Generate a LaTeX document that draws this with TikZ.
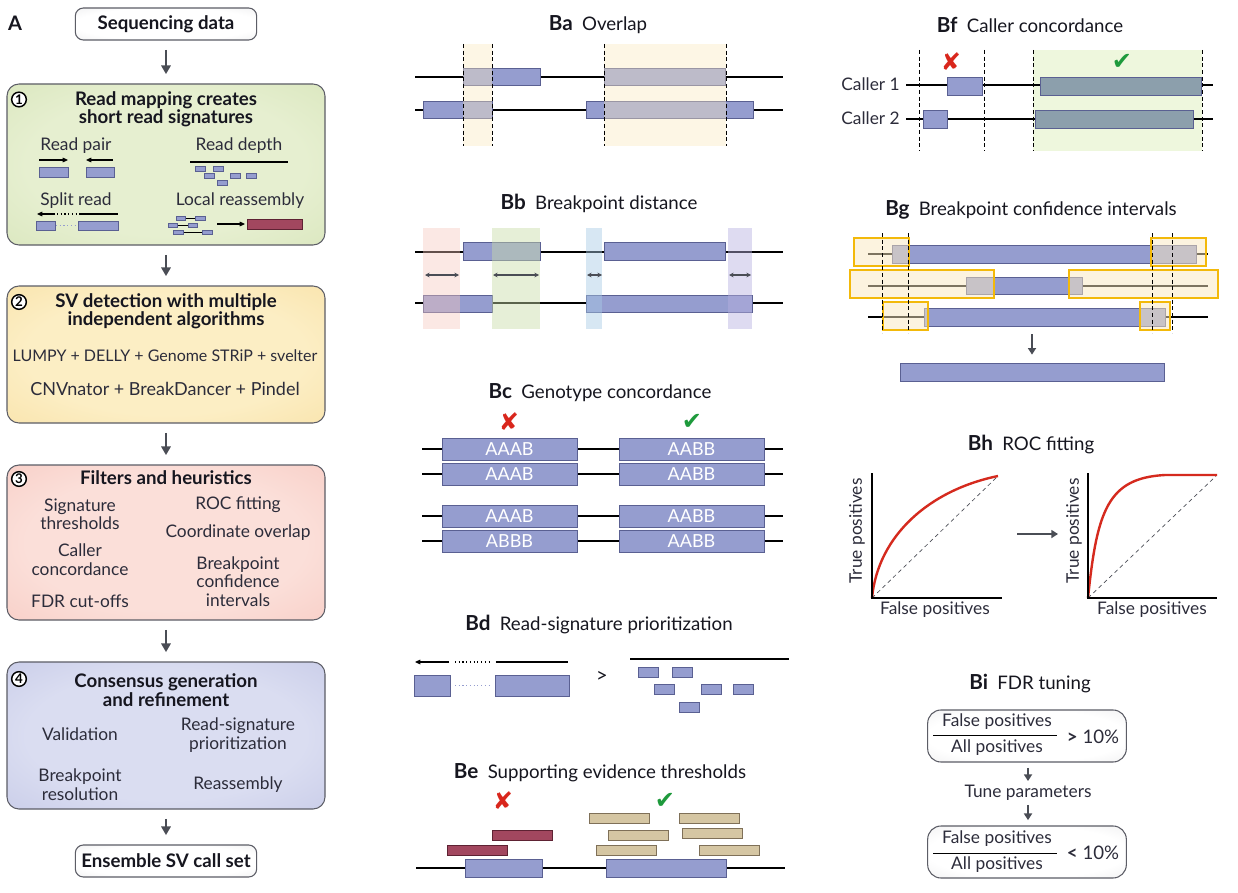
\documentclass[tikz,border=0pt]{standalone}
\usepackage{fontspec}
\setmainfont{Lato}
\newfontfamily\symfont{DejaVu Sans}
\usepackage{xcolor}
\usetikzlibrary{arrows.meta,positioning}

\definecolor{inkdark}{HTML}{16161F}
\definecolor{inkbody}{HTML}{2C2C3A}
\definecolor{arrowgray}{HTML}{4A4D55}
\definecolor{boxedge}{HTML}{5C5D66}
\definecolor{readblue}{HTML}{959DCF}
\definecolor{readedge}{HTML}{5A6092}
\definecolor{readteal}{HTML}{8C9FAC}
\definecolor{readred}{HTML}{A2475F}
\definecolor{readrededge}{HTML}{5E2233}
\definecolor{readtan}{HTML}{D5C6A3}
\definecolor{readtanedge}{HTML}{7F7058}
\definecolor{ciyellow}{HTML}{F3B90A}
\definecolor{ovyellow}{HTML}{FBE9C0}
\definecolor{ovpink}{HTML}{F7C6BD}
\definecolor{ovgreen}{HTML}{C9DCA8}
\definecolor{ovblue}{HTML}{A8CBE6}
\definecolor{ovpurple}{HTML}{B8B0E0}
\definecolor{ovlime}{HTML}{EEF7DD}
\definecolor{rocred}{HTML}{D52A1E}
\definecolor{crossred}{HTML}{D9261C}
\definecolor{checkgreen}{HTML}{1E9A3C}
\definecolor{greenin}{HTML}{E6EFD0}
\definecolor{greenout}{HTML}{C0D597}
\definecolor{yellowin}{HTML}{FCEEC4}
\definecolor{yellowout}{HTML}{F2CD78}
\definecolor{pinkin}{HTML}{FBDFD9}
\definecolor{pinkout}{HTML}{F1AA9F}
\definecolor{bluein}{HTML}{DADDF1}
\definecolor{blueout}{HTML}{A3A8D5}
\definecolor{grayin}{HTML}{FFFFFF}
\definecolor{grayout}{HTML}{C8C8CB}

\pgfdeclareradialshading{greenvig}{\pgfpoint{0bp}{0bp}}{color(0bp)=(greenin); color(22bp)=(greenin); color(72bp)=(greenout)}
\pgfdeclareradialshading{yellowvig}{\pgfpoint{0bp}{0bp}}{color(0bp)=(yellowin); color(22bp)=(yellowin); color(72bp)=(yellowout)}
\pgfdeclareradialshading{pinkvig}{\pgfpoint{0bp}{0bp}}{color(0bp)=(pinkin); color(22bp)=(pinkin); color(72bp)=(pinkout)}
\pgfdeclareradialshading{bluevig}{\pgfpoint{0bp}{0bp}}{color(0bp)=(bluein); color(22bp)=(bluein); color(72bp)=(blueout)}
\pgfdeclareradialshading{grayvig}{\pgfpoint{0bp}{0bp}}{color(0bp)=(grayin); color(25bp)=(grayin); color(72bp)=(grayout)}

\begin{document}
\begin{tikzpicture}[
  x=0.75pt, y=-0.75pt,
  >=Stealth,
  txtbody/.style={font=\fontsize{13}{13.8}\selectfont, text=inkbody, align=center, inner sep=0pt},
  txthead/.style={font=\bfseries\fontsize{14}{13.8}\selectfont, text=inkdark, align=center, inner sep=0pt},
  paneltitle/.style={font=\fontsize{14}{15}\selectfont, text=inkdark, inner sep=0pt},
  boxlabel/.style={font=\fontsize{13.5}{14}\selectfont, text=white, inner sep=0pt},
  stagebox/.style={draw=boxedge, line width=0.8pt, rounded corners=9pt, minimum width=238.5pt, shade},
  endbox/.style={draw=boxedge, line width=0.8pt, rounded corners=6pt, minimum width=136pt, minimum height=24pt,
    shade, shading=grayvig, font=\bfseries\fontsize{14}{15}\selectfont, text=inkdark},
  fdrbox/.style={draw=boxedge, line width=0.8pt, rounded corners=10pt, minimum width=149pt, minimum height=39pt,
    shade, shading=grayvig},
  stepnum/.style={circle, draw=black, line width=1.1pt, fill=white, inner sep=0pt, minimum size=11pt,
    font=\bfseries\fontsize{10}{10}\selectfont},
  flow/.style={draw=arrowgray, line width=1.6pt, -{Triangle[length=6.5pt,width=7pt]}, shorten <=7pt, shorten >=7pt},
  smallflow/.style={draw=arrowgray, line width=1.6pt, -{Triangle[length=5pt,width=6pt]}},
  sig/.style={draw=black, line width=0.8pt, -{Triangle[length=4pt,width=3.5pt]}},
  thinline/.style={draw=black, line width=0.8pt},
  chrom/.style={draw=black, line width=1.4pt},
  bpline/.style={draw=black, line width=0.6pt, dash pattern=on 3pt off 2pt},
  readbox/.style={draw=readedge, fill=readblue, line width=0.5pt},
  ovlfill/.style={fill=ovyellow, fill opacity=0.4},
  span/.style={draw=arrowgray, line width=0.8pt, {Stealth[length=3.5pt,width=3.5pt]}-{Stealth[length=3.5pt,width=3.5pt]}},
  verdict/.style={font=\symfont\fontsize{18}{18}\selectfont, inner sep=0pt},
]
  \useasboundingbox (0,0) rectangle (1238,892);
  \fill[white] (0,0) rectangle (1238,892);

  % ---------------- Panel A: pipeline ----------------
  \node[font=\bfseries\fontsize{15}{15}\selectfont, text=inkdark] (labA) at (15,23) {A};
  \node[endbox] (seq) at (166,24) {Sequencing data};

  % Stage 1
  \node[stagebox, shading=greenvig, minimum height=120.75pt] (s1) at (166,164.5) {};
  \node[stepnum] (n1) at (19,99.5) {1};
  \node[txthead] (h1) at (166,109) {Read mapping creates\\short read signatures};
  \node[txtbody] (rpair) at (76,146) {Read pair};
  \draw[sig] (39,160) -- (68,160);
  \draw[sig] (113,160) -- (86,160);
  \draw[readbox] (39,167) rectangle (68,177);
  \draw[readbox] (86,167) rectangle (114,177);
  \node[txtbody] (rdepth) at (239,146) {Read depth};
  \draw[thinline] (190,162) -- (288,162);
  \foreach \x/\y in {195/166,213/166,204/173,230/173,246/173,217/180}
    \draw[readbox] (\x,\y) rectangle ++(10,5);
  \node[txtbody] (rsplit) at (76,201) {Split read};
  \draw[sig] (55,214) -- (37,214);
  \draw[thinline, dotted] (57,214) -- (77,214);
  \draw[thinline] (79,214) -- (118,214);
  \draw[readbox] (36,221) rectangle (55,230);
  \draw[readblue, line width=0.8pt, dotted] (56,225.5) -- (77,225.5);
  \draw[readbox] (78,221) rectangle (118,230);
  \node[txtbody] (rlocal) at (240,201) {Local reassembly};
  \foreach \a/\b/\c/\d/\y in {176/185/195/205/216,168/177/188/197/223,173/183/202/212/230} {
    \draw[thinline, line width=0.6pt] (\b,\y+2) -- (\c,\y+2);
    \draw[readbox] (\a,\y) rectangle (\b,\y+4);
    \draw[readbox] (\c,\y) rectangle (\d,\y+4);
  }
  \draw[sig] (217,224) -- (245,224);
  \draw[draw=readrededge, fill=readred, line width=0.5pt] (247,219) rectangle (302,229);

  % Stage 2
  \node[stagebox, shading=yellowvig, minimum height=102.75pt] (s2) at (166,354.5) {};
  \node[stepnum] (n2) at (19,302) {2};
  \node[txthead] (h2) at (166,311) {SV detection with multiple\\independent algorithms};
  \node[txtbody, font=\fontsize{12}{13}\selectfont] (tools1) at (165,356) {LUMPY + DELLY + Genome STRiP + svelter};
  \node[txtbody, font=\fontsize{13.5}{14}\selectfont] (tools2) at (165,389) {CNVnator + BreakDancer + Pindel};

  % Stage 3
  \node[stagebox, shading=pinkvig, minimum height=116.25pt] (s3) at (166,542.5) {};
  \node[stepnum] (n3) at (19,479) {3};
  \node[txthead] (h3) at (166,478) {Filters and heuristics};
  \node[txtbody] (f1) at (80,514) {Signature\\thresholds};
  \node[txtbody] (f2) at (80,559.5) {Caller\\concordance};
  \node[txtbody] (f3) at (80,601) {FDR cut-offs};
  \node[txtbody] (f4) at (238,505) {ROC fitting};
  \node[txtbody] (f5) at (238,533) {Coordinate overlap};
  \node[txtbody] (f6) at (238,581.5) {Breakpoint\\confidence\\intervals};

  % Stage 4
  \node[stagebox, shading=bluevig, minimum height=110.25pt] (s4) at (166,735.5) {};
  \node[stepnum] (n4) at (19,679) {4};
  \node[txthead] (h4) at (166,690) {Consensus generation\\and refinement};
  \node[txtbody] (c1) at (80,734) {Validation};
  \node[txtbody] (c2) at (238,735) {Read-signature\\prioritization};
  \node[txtbody] (c3) at (80,784.5) {Breakpoint\\resolution};
  \node[txtbody] (c4) at (238,785) {Reassembly};

  \node[endbox] (ens) at (166,861) {Ensemble SV call set};

  \draw[flow] (seq) -- (s1);
  \draw[flow] (s1) -- (s2);
  \draw[flow] (s2) -- (s3);
  \draw[flow] (s3) -- (s4);
  \draw[flow] (s4) -- (ens);

  % ---------------- Ba: overlap ----------------
  \node[paneltitle] (ba) at (598,25) {{\bfseries\fontsize{15.5}{15}\selectfont Ba}\enspace Overlap};
  \draw[chrom] (415,77) -- (783,77);
  \draw[chrom] (415,110) -- (783,110);
  \draw[readbox] (463,68) rectangle (540,85);
  \draw[readbox] (604,68) rectangle (725,85);
  \draw[readbox] (423,101) rectangle (492,118);
  \draw[readbox] (586,101) rectangle (753,118);
  \fill[ovlfill] (463,44) rectangle (492,146);
  \fill[ovlfill] (604,44) rectangle (726,146);
  \foreach \x in {463,492,604,726}
    \draw[bpline] (\x,44) -- (\x,146);

  % ---------------- Bb: breakpoint distance ----------------
  \node[paneltitle] (bb) at (599,203) {{\bfseries\fontsize{15.5}{15}\selectfont Bb}\enspace Breakpoint distance};
  \draw[chrom] (415,252) -- (783,252);
  \draw[chrom] (415,303) -- (783,303);
  \draw[readbox] (463,242) rectangle (540,260);
  \draw[readbox] (604,242) rectangle (725,260);
  \draw[readbox] (423,295) rectangle (492,312);
  \draw[readbox] (586,295) rectangle (752,312);
  \fill[ovpink, fill opacity=0.4] (423,228) rectangle (460,329);
  \fill[ovgreen, fill opacity=0.45] (492,228) rectangle (540,329);
  \fill[ovblue, fill opacity=0.45] (586,228) rectangle (602,329);
  \fill[ovpurple, fill opacity=0.45] (728,228) rectangle (752,329);
  \foreach \a/\b in {425/459,493/539,587/602,729/751}
    \draw[span] (\a,275) -- (\b,275);

  % ---------------- Bc: genotype concordance ----------------
  \node[paneltitle] (bc) at (600,393) {{\bfseries\fontsize{15.5}{15}\selectfont Bc}\enspace Genotype concordance};
  \node[verdict, text=crossred] (bcno) at (509,422) {✘};
  \node[verdict, text=checkgreen] (bcyes) at (692,422) {✔};
  \foreach \y/\gl/\gr [count=\i] in {449/AAAB/AABB,474/AAAB/AABB,516/AAAB/AABB,541/ABBB/AABB} {
    \draw[chrom] (422,\y) -- (783,\y);
    \draw[readbox] (442,\y-11) rectangle (577,\y+11);
    \draw[readbox] (619,\y-11) rectangle (764,\y+11);
    \node[boxlabel] (gtl\i) at (509.5,\y) {\gl};
    \node[boxlabel] (gtr\i) at (691.5,\y) {\gr};
  }

  % ---------------- Bd: read-signature prioritization ----------------
  \node[paneltitle] (bd) at (599,625) {{\bfseries\fontsize{15.5}{15}\selectfont Bd}\enspace Read-signature prioritization};
  \draw[sig] (449,662) -- (415,662);
  \draw[thinline, dotted] (455,662) -- (491,662);
  \draw[thinline] (496,662) -- (568,662);
  \draw[readbox] (414,675) rectangle (450,696);
  \draw[readblue, line width=0.8pt, dotted] (455,685.5) -- (491,685.5);
  \draw[readbox] (495,675) rectangle (569,696);
  \node[font=\fontsize{15}{15}\selectfont, text=inkdark] (gtr) at (602,677) {>};
  \draw[thinline] (630,659) -- (789,659);
  \foreach \x/\y in {638/667,672/667,654/684,701/684,733/684,679/702}
    \draw[readbox] (\x,\y) rectangle ++(20,10);

  % ---------------- Be: supporting evidence ----------------
  \node[paneltitle] (be) at (600,773) {{\bfseries\fontsize{15.5}{15}\selectfont Be}\enspace Supporting evidence thresholds};
  \node[verdict, text=crossred] (beno) at (503,801) {✘};
  \node[verdict, text=checkgreen] (beyes) at (665,801) {✔};
  \draw[draw=readrededge, fill=readred, line width=0.5pt] (492,830) rectangle (552,840);
  \draw[draw=readrededge, fill=readred, line width=0.5pt] (447,845) rectangle (507,855);
  \foreach \x/\y in {589/813,679/813,608/830,682/828,596/845,699/845}
    \draw[draw=readtanedge, fill=readtan, line width=0.5pt] (\x,\y) rectangle ++(60,10);
  \draw[chrom] (416,868) -- (785,868);
  \draw[readbox] (465,859) rectangle (542,877);
  \draw[readbox] (606,859) rectangle (726,877);

  % ---------------- Bf: caller concordance ----------------
  \node[paneltitle] (bf) at (1030,25) {{\bfseries\fontsize{15.5}{15}\selectfont Bf}\enspace Caller concordance};
  \fill[ovlime] (1033,50) rectangle (1202,151);
  \node[txtbody, anchor=east] (caller1) at (900,84) {Caller 1};
  \node[txtbody, anchor=east] (caller2) at (900,118) {Caller 2};
  \draw[chrom] (906,85) -- (1213,85);
  \draw[chrom] (906,119) -- (1213,119);
  \draw[readbox] (947,77) rectangle (982,95);
  \draw[readbox, fill=readteal] (1040,77) rectangle (1201,95);
  \draw[readbox] (923,110) rectangle (947,128);
  \draw[readbox, fill=readteal] (1035,110) rectangle (1193,128);
  \foreach \x in {919,984,1033,1202}
    \draw[bpline] (\x,50) -- (\x,151);
  \node[verdict, text=crossred] (bfno) at (951,62) {✘};
  \node[verdict, text=checkgreen] (bfyes) at (1122,62) {✔};

  % ---------------- Bg: breakpoint confidence intervals ----------------
  \node[paneltitle] (bg) at (1031,210) {{\bfseries\fontsize{15.5}{15}\selectfont Bg}\enspace Breakpoint confidence intervals};
  \foreach \y in {254,286,317}
    \draw[chrom, line width=1pt] (868,\y) -- (1208,\y);
  \draw[readbox] (892,245) rectangle (1196,263);
  \draw[readbox] (966,277) rectangle (1082,294);
  \draw[readbox] (924,308) rectangle (1165,326);
  \foreach \a/\b/\c/\d in {854/238/909/266,1151/238/1206/266,850/270/994/298,1069/270/1218/298,883/302/928/330,1140/302/1170/330} {
    \fill[ovyellow, fill opacity=0.5] (\a,\b) rectangle (\c,\d);
    \draw[ciyellow, line width=0.9pt] (\a,\b) rectangle (\c,\d);
  }
  \foreach \x in {882,908,1152,1172}
    \draw[bpline] (\x,233) -- (\x,333);
  \coordinate (bgfrom) at (1032,334);
  \node[readbox, minimum width=198pt, minimum height=13.5pt, inner sep=0pt] (bgcons) at (1032,372) {};
  \draw[smallflow, shorten >=6pt] (bgfrom) -- (bgcons);

  % ---------------- Bh: ROC fitting ----------------
  \node[paneltitle] (bh) at (1031,445) {{\bfseries\fontsize{15.5}{15}\selectfont Bh}\enspace ROC fitting};
  \draw[arrowgray, line width=0.5pt, dash pattern=on 3pt off 2.5pt] (872,598) -- (998,476);
  \draw[rocred, line width=1.8pt] (872,598) .. controls (878,535) and (930,490) .. (998,476);
  \draw[black, line width=0.8pt] (872,473) -- (872,598) -- (1002,598);
  \node[txtbody, rotate=90] (bhyl) at (857,531) {True positives};
  \node[txtbody] (bhxl) at (935,610) {False positives};
  \coordinate (rocfrom) at (1017,534);
  \coordinate (rocto) at (1058,534);
  \draw[smallflow, line width=2pt] (rocfrom) -- (rocto);
  \draw[arrowgray, line width=0.5pt, dash pattern=on 3pt off 2.5pt] (1088,598) -- (1216,476);
  \draw[rocred, line width=1.8pt] (1088,598) .. controls (1097,510) and (1108,478) .. (1165,475) -- (1217,475);
  \draw[black, line width=0.8pt] (1088,473) -- (1088,598) -- (1217,598);
  \node[txtbody, rotate=90] (bhyr) at (1074,531) {True positives};
  \node[txtbody] (bhxr) at (1152,610) {False positives};

  % ---------------- Bi: FDR tuning ----------------
  \node[paneltitle] (bi) at (1030,684) {{\bfseries\fontsize{15.5}{15}\selectfont Bi}\enspace FDR tuning};
  \node[fdrbox] (fdrhi) at (1027,736) {};
  \node[txtbody] (fphi) at (997,722) {False positives};
  \draw[black, line width=0.7pt] (933,735) -- (1057,735);
  \node[txtbody] (aphi) at (997,748) {All positives};
  \node[txtbody, font=\fontsize{14}{14}\selectfont] (gthi) at (1093,737) {\textbf{>}\ 10\%};
  \node[txtbody] (tune) at (1028,793) {Tune parameters};
  \node[fdrbox] (fdrlo) at (1027,852) {};
  \node[txtbody] (fplo) at (997,839) {False positives};
  \draw[black, line width=0.7pt] (933,853) -- (1057,853);
  \node[txtbody] (aplo) at (997,865) {All positives};
  \node[txtbody, font=\fontsize{14}{14}\selectfont] (ltlo) at (1093,853) {\textbf{<}\ 10\%};
  \draw[smallflow, shorten <=4pt, shorten >=3pt] (fdrhi.south -| tune) -- (tune);
  \draw[smallflow, shorten <=3pt, shorten >=4pt] (tune) -- (fdrlo.north -| tune);

\end{tikzpicture}
\end{document}
